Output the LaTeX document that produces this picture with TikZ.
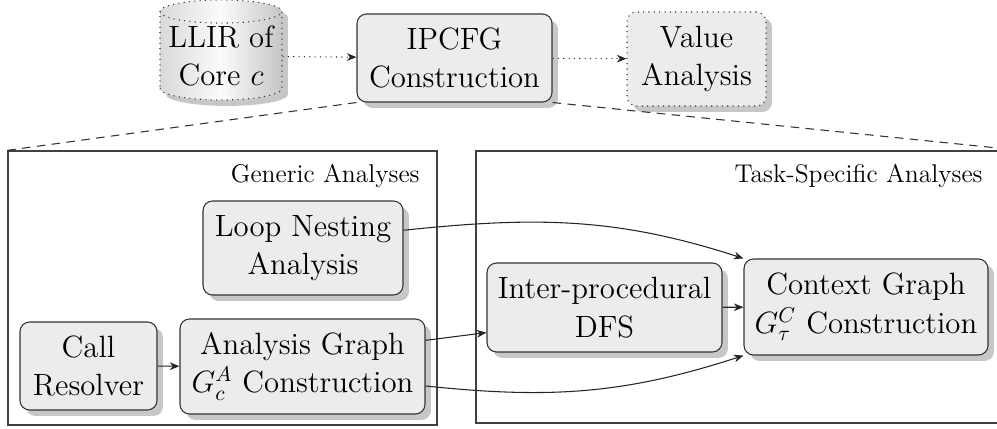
\documentclass[tikz,border=0pt]{standalone}
\usetikzlibrary{shapes.geometric,shadows,arrows.meta}
\begin{document}
\def\u{0.468pt}
\begin{tikzpicture}[x=0.468pt,y=-0.468pt,
  shadowed/.style={drop shadow={shadow xshift=2.8pt, shadow yshift=-2.8pt, fill=black!22, opacity=1}},
  proc/.style={draw=black!80, line width=0.5pt, fill=gray!15, rounded corners=4.5pt, align=center, font=\Large, inner sep=0pt, shadowed},
  grp/.style={draw=black!75, line width=0.6pt, inner sep=0pt},
  grplabel/.style={font=\large, anchor=base east, inner sep=0pt},
  flow/.style={-{Stealth[length=4.5pt,width=3.6pt,inset=1.4pt]}, black!85, line width=0.5pt},
  dflow/.style={flow, dotted},
  zoomline/.style={dash pattern=on 4pt off 3pt, black!80, line width=0.5pt}]
\useasboundingbox (0,0) rectangle (997,429);
% group boxes
\node[grp, minimum width=429*\u, minimum height=274*\u] (gen) at (222.5,288) {};
\node[grp, minimum width=544*\u, minimum height=272*\u] (task) at (748,287) {};
\node[grplabel] (genl) at (420,183) {Generic Analyses};
\node[grplabel] (taskl) at (983,183) {Task-Specific Analyses};
% top row
\node[cylinder, shape border rotate=90, aspect=0.22, draw=black!80, dotted, line width=0.5pt,
      left color=gray!30, right color=gray!45, middle color=gray!3, align=center, font=\Large, inner sep=0pt,
      minimum width=122*\u, minimum height=100*\u, shadowed] (llir) at (221,56) {LLIR of\\Core $c$};
\node[proc, minimum width=195*\u, minimum height=88*\u] (ipcfg) at (454.5,58) {IPCFG\\Construction};
\node[proc, dotted, minimum width=139*\u, minimum height=94*\u] (val) at (696.5,59) {Value\\Analysis};
\draw[dflow] (llir) -- (ipcfg);
\draw[dflow] (ipcfg) -- (val);
\draw[zoomline] (ipcfg.south west) -- (gen.north west);
\draw[zoomline] (ipcfg.south east) -- (task.north east);
% inner nodes
\node[proc, minimum width=200*\u, minimum height=94*\u] (loop) at (303,248) {Loop Nesting\\Analysis};
\node[proc, minimum width=137*\u, minimum height=88*\u] (call) at (88.5,366) {Call\\Resolver};
\node[proc, minimum width=245*\u, minimum height=95*\u] (ag) at (302.5,366.5) {Analysis Graph\\$G_c^A$ Construction};
\node[proc, minimum width=235*\u, minimum height=89*\u] (dfs) at (604.5,307.5) {Inter-procedural\\DFS};
\node[proc, minimum width=244*\u, minimum height=96*\u] (ctx) at (866,307) {Context Graph\\$G_\tau^C$ Construction};
% connectors
\draw[flow] (call) -- (ag);
\draw[flow] (ag.12) -- (dfs.192);
\draw[flow] (dfs) -- (ctx);
\draw[flow] (loop.10) to[out=6, in=162] (ctx.north west);
\draw[flow] (ag.-9) to[out=-6, in=198] (ctx.south west);
\end{tikzpicture}
\end{document}
